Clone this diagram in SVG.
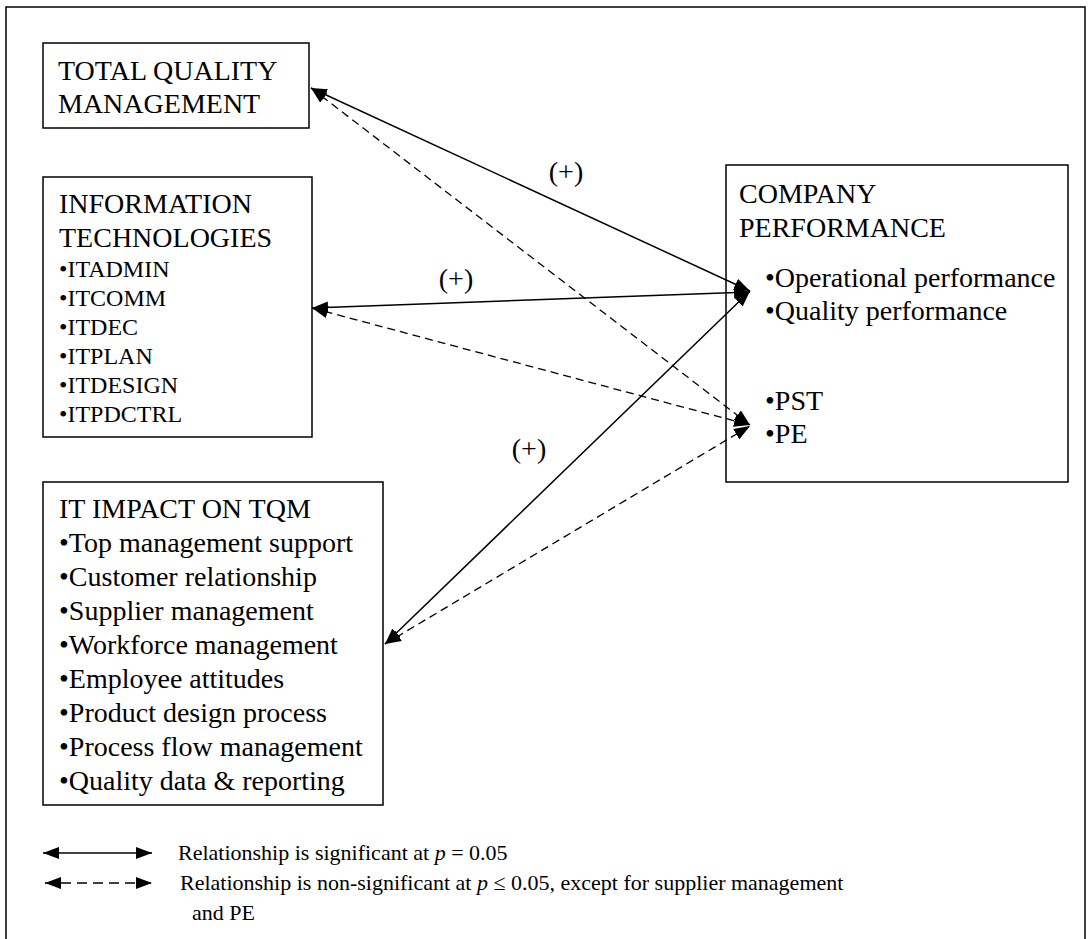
<svg xmlns="http://www.w3.org/2000/svg" width="1091" height="939" viewBox="0 0 1091 939">
<style>
text{font-family:"Liberation Serif","Times New Roman",serif;fill:#000}
.t{font-size:28px}
.s{font-size:24px}
.l{font-size:22px}
.box{fill:#fff;stroke:#000;stroke-width:1.5}
.sol{fill:none;stroke:#000;stroke-width:1.5}
.dsh{fill:none;stroke:#000;stroke-width:1.3;stroke-dasharray:8 5}
.ldsh{fill:none;stroke:#000;stroke-width:1.5;stroke-dasharray:10 6}
</style>
<defs>
<marker id="ah" viewBox="0 0 16 12" refX="16" refY="6" markerWidth="16" markerHeight="12" markerUnits="userSpaceOnUse" orient="auto-start-reverse">
<path d="M0,0 L16,6 L0,12 Z" fill="#000"/>
</marker>
</defs>
<rect x="6" y="7" width="1079" height="945" fill="#fff" stroke="#000" stroke-width="1.5"/>

<g id="tqm">
<rect class="box" x="43" y="43" width="266" height="85"/>
<text class="t" x="58" y="80">TOTAL QUALITY</text>
<text class="t" x="58" y="113">MANAGEMENT</text>
</g>

<g id="it">
<rect class="box" x="43" y="177" width="269" height="260"/>
<text class="t" x="59" y="213">INFORMATION</text>
<text class="t" x="59" y="247">TECHNOLOGIES</text>
<text class="s" x="59" y="277">•ITADMIN</text>
<text class="s" x="59" y="306">•ITCOMM</text>
<text class="s" x="59" y="335">•ITDEC</text>
<text class="s" x="59" y="364">•ITPLAN</text>
<text class="s" x="59" y="393">•ITDESIGN</text>
<text class="s" x="59" y="422">•ITPDCTRL</text>
</g>

<g id="impact">
<rect class="box" x="43" y="482" width="340" height="323"/>
<text class="t" x="59" y="518">IT IMPACT ON TQM</text>
<text class="t" x="59" y="552">•Top management support</text>
<text class="t" x="59" y="586">•Customer relationship</text>
<text class="t" x="59" y="620">•Supplier management</text>
<text class="t" x="59" y="654">•Workforce management</text>
<text class="t" x="59" y="688">•Employee attitudes</text>
<text class="t" x="59" y="722">•Product design process</text>
<text class="t" x="59" y="756">•Process flow management</text>
<text class="t" x="59" y="790">•Quality data &amp; reporting</text>
</g>

<g id="company">
<rect class="box" x="726" y="165" width="342" height="317"/>
<text class="t" x="739" y="203">COMPANY</text>
<text class="t" x="739" y="237">PERFORMANCE</text>
<text class="t" x="765" y="287">•Operational performance</text>
<text class="t" x="765" y="320">•Quality performance</text>
<text class="t" x="765" y="410">•PST</text>
<text class="t" x="765" y="443">•PE</text>
</g>

<g id="connectors">
<line class="sol" x1="311" y1="88" x2="750" y2="291" marker-start="url(#ah)" marker-end="url(#ah)"/>
<line class="dsh" x1="311" y1="88" x2="750" y2="425" marker-start="url(#ah)" marker-end="url(#ah)"/>
<line class="sol" x1="312" y1="308" x2="750" y2="292" marker-start="url(#ah)" marker-end="url(#ah)"/>
<line class="dsh" x1="312" y1="308" x2="750" y2="425" marker-start="url(#ah)" marker-end="url(#ah)"/>
<line class="sol" x1="385" y1="644" x2="750" y2="291" marker-start="url(#ah)" marker-end="url(#ah)"/>
<line class="dsh" x1="385" y1="644" x2="750" y2="426" marker-start="url(#ah)" marker-end="url(#ah)"/>
</g>

<g id="labels">
<text class="t" x="566" y="181" text-anchor="middle">(+)</text>
<text class="t" x="456" y="288" text-anchor="middle">(+)</text>
<text class="t" x="529" y="458" text-anchor="middle">(+)</text>
</g>

<g id="legend">
<line class="sol" x1="43" y1="853" x2="152" y2="853" marker-start="url(#ah)" marker-end="url(#ah)"/>
<line class="ldsh" x1="45" y1="883" x2="152" y2="883" marker-start="url(#ah)" marker-end="url(#ah)"/>
<text class="l" x="178" y="860">Relationship is significant at <tspan font-style="italic">p</tspan> = 0.05</text>
<text class="l" x="180" y="890">Relationship is non-significant at <tspan font-style="italic">p</tspan> ≤ 0.05, except for supplier management</text>
<text class="l" x="192" y="920">and PE</text>
</g>
</svg>
